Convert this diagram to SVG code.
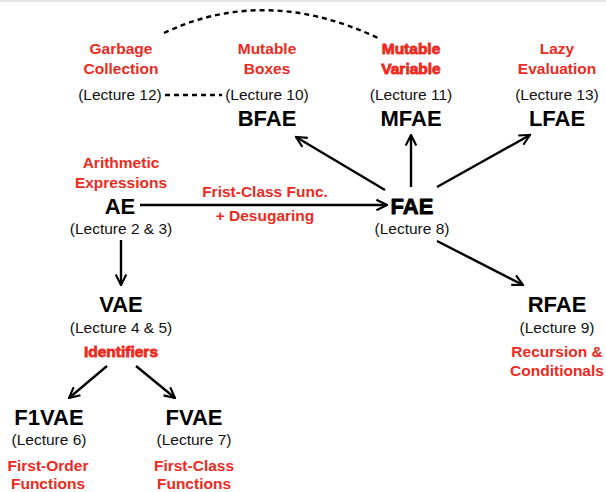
<svg xmlns="http://www.w3.org/2000/svg" width="606" height="492" viewBox="0 0 606 492">
<style>
.t{font-family:"Liberation Sans",Arial,sans-serif;font-weight:bold;font-size:22px;fill:#000;text-anchor:middle}
.l{font-family:"Liberation Sans",Arial,sans-serif;font-size:15.5px;fill:#111;text-anchor:middle}
.r{font-family:"Liberation Sans",Arial,sans-serif;font-weight:bold;font-size:15.5px;fill:#ec2a1e;text-anchor:middle}
.c{stroke:#000;stroke-width:2.4;fill:none}
.d{stroke:#000;stroke-width:2.4;fill:none;stroke-dasharray:5 4}
.h{stroke-width:0.8;stroke-linejoin:round}
</style>
<defs>
<marker id="a" viewBox="0 0 10 10" refX="9" refY="5" markerWidth="5.5" markerHeight="5.5" orient="auto" markerUnits="strokeWidth">
<path d="M1,1 L9,5 L1,9" fill="none" stroke="#000" stroke-width="1.6"/>
</marker>
</defs>
<rect width="606" height="492" fill="#fff"/>
<rect width="606" height="2" fill="#e4e4e4"/>
<g id="connectors">
<path class="c" d="M140,205 L387,205" marker-end="url(#a)"/>
<path class="c" d="M121,240 L121,285" marker-end="url(#a)"/>
<path class="c" d="M107,366 L69,398" marker-end="url(#a)"/>
<path class="c" d="M136,366 L175,398" marker-end="url(#a)"/>
<path class="c" d="M385,190 L296,137" marker-end="url(#a)"/>
<path class="c" d="M411,187 L411,135" marker-end="url(#a)"/>
<path class="c" d="M437,187 L530,135" marker-end="url(#a)"/>
<path class="c" d="M437,241 L523,285" marker-end="url(#a)"/>
<path class="d" d="M165,95 L222,95"/>
<path class="d" d="M164,33 Q265,-15 378,38"/>
<text class="r" x="265" y="197">Frist-Class Func.</text>
<text class="r" x="265" y="221">+ Desugaring</text>
</g>
<g id="gc">
<text class="r" x="121" y="54">Garbage</text>
<text class="r" x="121" y="74">Collection</text>
<text class="l" x="120" y="100">(Lecture 12)</text>
</g>
<g id="bfae">
<text class="r" x="267" y="54">Mutable</text>
<text class="r" x="267" y="74">Boxes</text>
<text class="l" x="267" y="100">(Lecture 10)</text>
<text class="t" x="267" y="126">BFAE</text>
</g>
<g id="mfae">
<text class="r h" x="411" y="54" stroke="#ec2a1e">Mutable</text>
<text class="r h" x="411" y="74" stroke="#ec2a1e">Variable</text>
<text class="l" x="411" y="100">(Lecture 11)</text>
<text class="t" x="411" y="126">MFAE</text>
</g>
<g id="lfae">
<text class="r" x="557" y="54">Lazy</text>
<text class="r" x="557" y="74">Evaluation</text>
<text class="l" x="557" y="100">(Lecture 13)</text>
<text class="t" x="557" y="126">LFAE</text>
</g>
<g id="ae">
<text class="r" x="121" y="168">Arithmetic</text>
<text class="r" x="121" y="188">Expressions</text>
<text class="t" x="120" y="214">AE</text>
<text class="l" x="121" y="234">(Lecture 2 &amp; 3)</text>
</g>
<g id="fae">
<text class="t h" x="412" y="214" stroke="#000">FAE</text>
<text class="l" x="412" y="234">(Lecture 8)</text>
</g>
<g id="vae">
<text class="t" x="121" y="312">VAE</text>
<text class="l" x="121" y="333">(Lecture 4 &amp; 5)</text>
<text class="r h" x="121" y="357" stroke="#ec2a1e">Identifiers</text>
</g>
<g id="f1vae">
<text class="t" x="49" y="425">F1VAE</text>
<text class="l" x="49" y="445">(Lecture 6)</text>
<text class="r" x="48" y="471">First-Order</text>
<text class="r" x="48" y="489">Functions</text>
</g>
<g id="fvae">
<text class="t" x="194" y="425">FVAE</text>
<text class="l" x="194" y="445">(Lecture 7)</text>
<text class="r" x="194" y="471">First-Class</text>
<text class="r" x="194" y="489">Functions</text>
</g>
<g id="rfae">
<text class="t" x="557" y="312">RFAE</text>
<text class="l" x="557" y="333">(Lecture 9)</text>
<text class="r" x="557" y="357">Recursion &amp;</text>
<text class="r" x="557" y="376">Conditionals</text>
</g>
</svg>
